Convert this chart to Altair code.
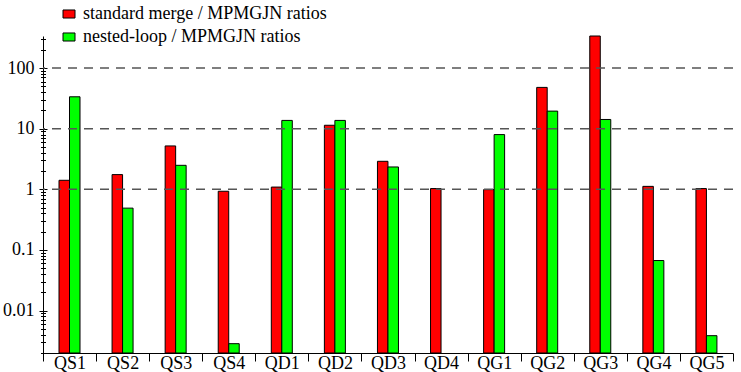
import altair as alt
import pandas as pd

queries = ["QS1", "QS2", "QS3", "QS4", "QD1", "QD2", "QD3", "QD4",
           "QG1", "QG2", "QG3", "QG4", "QG5"]
merge_ratio = [1.41, 1.75, 5.2, 0.93, 1.09, 11.4, 2.9, 1.03, 0.99, 48, 338, 1.12, 1.03]
nested_ratio = [33.6, 0.49, 2.49, 0.00285, 13.7, 13.7, 2.34, None, 8.0, 19.5, 14.2, 0.067, 0.00386]
series_names = ["standard merge / MPMGJN ratios", "nested-loop / MPMGJN ratios"]
series_colors = ["#ff0000", "#00ff00"]
grid_values = [1, 10, 100]
major_ticks = [0.01, 0.1, 1, 10, 100]
minor_ticks = [m * d for d in [0.001, 0.01, 0.1, 1, 10, 100] for m in range(2, 10)
               if 0.002 <= m * d <= 338]
y_min, y_max = 0.002, 338

rows = []
for q, a, b in zip(queries, merge_ratio, nested_ratio):
    rows.append({"query": q, "series": series_names[0], "value": a})
    if b is not None:
        rows.append({"query": q, "series": series_names[1], "value": b})
df = pd.DataFrame(rows)
grid_df = pd.DataFrame({"value": grid_values})

FONT = "Liberation Serif"
FS = 18
yscale = alt.Scale(type="log", domain=[y_min, y_max], nice=False)

bars = alt.Chart(df).transform_calculate(base=str(y_min)).mark_bar(
    stroke="black", strokeWidth=1).encode(
    x=alt.X("query:N", sort=queries, title=None,
            scale=alt.Scale(paddingInner=0, paddingOuter=0),
            axis=alt.Axis(labelAngle=0, labelFont=FONT, labelFontSize=FS, labelColor="black",
                          tickBand="extent", tickSize=8, tickColor="black",
                          domainColor="black", labelPadding=-7)),
    xOffset=alt.XOffset("series:N", sort=series_names,
                        scale=alt.Scale(range=[16, 37], paddingInner=0, paddingOuter=0)),
    y=alt.Y("value:Q", scale=yscale, title=None, stack=None,
            axis=alt.Axis(values=major_ticks, format="~g", grid=False, ticks=False,
                          tickSize=0, labelPadding=9, labelFont=FONT, labelFontSize=FS,
                          labelColor="black", domainColor="black", orient="left")),
    y2="base:Q",
    color=alt.Color("series:N", sort=series_names,
                    scale=alt.Scale(domain=series_names, range=series_colors),
                    legend=alt.Legend(title=None, orient="none", legendX=17, legendY=-31,
                                      labelFont=FONT, labelFontSize=FS, labelColor="black",
                                      labelLimit=0,
                                      symbolType="M-1,-0.67H1V0.67H-1Z", symbolSize=144,
                                      symbolStrokeColor="black", symbolStrokeWidth=1,
                                      symbolOpacity=1, rowPadding=5, labelOffset=5)),
)

grid = alt.Chart(grid_df).mark_rule(color="#555555", strokeWidth=1.5, strokeDash=[9, 7]).encode(
    y=alt.Y("value:Q", scale=yscale, title=None,
            axis=alt.Axis(values=major_ticks, labels=False, domain=False, grid=False,
                          tickSize=8, offset=-4, tickColor="black", orient="left")),
)

minor = alt.Chart(grid_df).mark_rule(opacity=0).encode(
    y=alt.Y("value:Q", scale=yscale, title=None,
            axis=alt.Axis(values=minor_ticks, labels=False, domain=False, grid=False,
                          tickSize=5, offset=-2.5, tickColor="black", orient="left")),
)

chart = alt.layer(bars, grid, minor).resolve_axis(y="independent").properties(
    width=690, height=317,
    autosize=alt.AutoSizeParams(type="none"),
    padding={"left": 43, "top": 36, "right": 8, "bottom": 19},
).configure(background="white", font=FONT).configure_view(stroke=None).configure_legend(
    labelFont=FONT, labelFontSize=FS, labelColor="black", labelLimit=0
)

chart.save("out.html", embed_options={"renderer": "svg", "actions": False})
